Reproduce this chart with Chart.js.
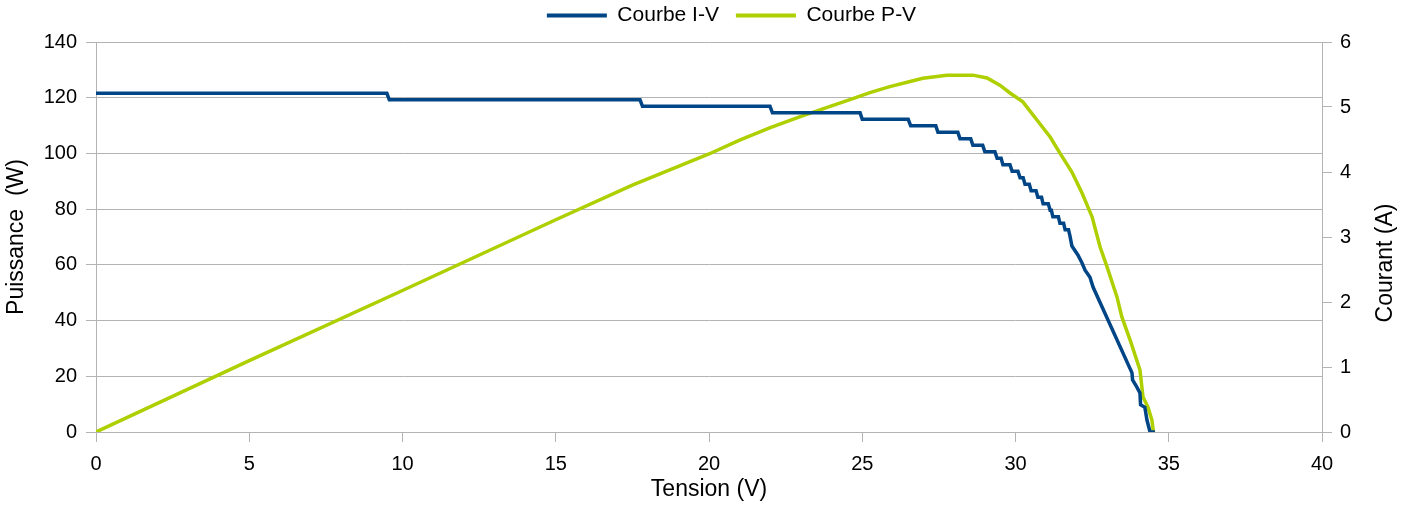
<!DOCTYPE html>
<html lang="fr">
<head>
<meta charset="utf-8">
<title>Courbes I-V et P-V</title>
<script src="https://cdn.jsdelivr.net/npm/chart.js@4.4.0/dist/chart.umd.min.js"></script>
<style>
  html, body { margin: 0; padding: 0; background: #fff; }
  #cadre { width: 1411px; height: 506px; }
</style>
</head>
<body>
<div id="cadre"><canvas id="courbes" width="1411" height="506"></canvas></div>
<script>
// Points : [tension (V), courant (A)]
const courbeIV = [
  [0, 5.21], [9.49, 5.21], [9.57, 5.11], [17.75, 5.11], [17.83, 5.01], [21.99, 5.01],
  [22.07, 4.91], [24.93, 4.91], [25.0, 4.81], [26.5, 4.81], [26.58, 4.71], [27.4, 4.71],
  [27.47, 4.61], [28.12, 4.61], [28.19, 4.51], [28.54, 4.51], [28.61, 4.41], [28.93, 4.41],
  [29.0, 4.31], [29.33, 4.31], [29.4, 4.21], [29.53, 4.21], [29.59, 4.11], [29.82, 4.11],
  [29.89, 4.01], [30.08, 4.01], [30.15, 3.91], [30.25, 3.91], [30.31, 3.81], [30.45, 3.81],
  [30.51, 3.71], [30.67, 3.71], [30.73, 3.61], [30.85, 3.61], [30.9, 3.51], [31.07, 3.51],
  [31.13, 3.41], [31.17, 3.41], [31.22, 3.31], [31.4, 3.31], [31.45, 3.21], [31.57, 3.21],
  [31.62, 3.11], [31.73, 3.11], [31.78, 3.01], [31.84, 2.86], [32.04, 2.72], [32.17, 2.6],
  [32.27, 2.49], [32.43, 2.38], [32.53, 2.23], [33.8, 0.91], [33.82, 0.8], [33.96, 0.69],
  [34.06, 0.6], [34.08, 0.42], [34.22, 0.38], [34.29, 0.18], [34.39, 0], [34.55, 0]
];

// Points relevés : [tension (V), puissance (W)]
const courbePV = [
  [0, 0], [5, 25.6], [10, 50.8], [15, 76.2], [17.5, 88.6], [20, 99.8], [21, 104.8],
  [22, 109.3], [23, 113.3], [24, 117.1], [24.6, 119.3], [25.25, 121.8], [25.9, 124.0],
  [26.56, 125.8], [26.98, 127.0], [27.76, 128.1], [28.61, 128.1], [29.07, 127.1], [29.49, 124.5],
  [29.82, 121.7], [30.24, 118.5], [30.7, 112.0], [31.13, 105.9], [31.45, 100.1], [31.84, 93.3],
  [32.17, 85.8], [32.5, 77.2], [32.76, 66.4], [32.99, 59.2], [33.31, 48.5], [33.47, 41.3],
  [33.74, 33.0], [34.06, 22.3], [34.16, 12.6], [34.32, 9.0], [34.45, 4.3], [34.5, 0]
];

const libelles = ['Courbe I-V', 'Courbe P-V'];
const titreX = 'Tension (V)';
const titreGauche = 'Puissance  (W)';
const titreDroite = 'Courant (A)';

const police = '"Liberation Sans", Arial, sans-serif';
const gris = '#b3b3b3';

// Petits ajustements de mise en page + titre de l'axe droit écrit de bas en haut
const miseEnPage = {
  id: 'miseEnPage',
  beforeLayout(chart) {
    // un peu plus d'espace sous la légende
    const leg = chart.legend;
    if (leg && !leg._fitAjuste) {
      const fit = leg.fit;
      leg.fit = function () { fit.call(this); this.height += 6; };
      leg._fitAjuste = true;
    }
  },
  afterLayout(chart) {
    // décale la légende vers la droite comme dans la référence
    chart.legend.left += 26;
    chart.legend.right += 26;
  },
  afterDraw(chart) {
    const ctx = chart.ctx;
    const axe = chart.scales.y1;
    const area = chart.chartArea;
    ctx.save();
    ctx.translate(axe.right - 25, (area.top + area.bottom) / 2 + 26);
    ctx.rotate(-Math.PI / 2);
    ctx.font = '23px ' + police;
    ctx.fillStyle = '#000';
    ctx.textAlign = 'center';
    ctx.textBaseline = 'middle';
    ctx.fillText(titreDroite, 0, 0);
    ctx.restore();
  }
};

const toXY = arr => arr.map(p => ({ x: p[0], y: p[1] }));

new Chart(document.getElementById('courbes'), {
  type: 'line',
  data: {
    datasets: [
      {
        label: libelles[0],
        data: toXY(courbeIV),
        yAxisID: 'y1',
        borderColor: '#004586',
        backgroundColor: '#004586',
        borderWidth: 3.5,
        pointRadius: 0,
        tension: 0
      },
      {
        label: libelles[1],
        data: toXY(courbePV),
        yAxisID: 'y',
        borderColor: '#aecf00',
        backgroundColor: '#aecf00',
        borderWidth: 3.5,
        pointRadius: 0,
        tension: 0
      }
    ]
  },
  options: {
    responsive: false,
    animation: false,
    layout: { padding: { top: -12, left: 0, right: 0, bottom: 0 } },
    plugins: {
      tooltip: { enabled: false },
      legend: {
        position: 'top',
        labels: {
          boxWidth: 60,
          boxHeight: 4,
          padding: 17,
          color: '#000',
          font: { family: police, size: 21 },
          generateLabels(chart) {
            return Chart.defaults.plugins.legend.labels.generateLabels(chart)
              .map(l => Object.assign(l, { lineWidth: 0 }));
          }
        }
      }
    },
    scales: {
      x: {
        type: 'linear',
        min: 0, max: 40,
        afterFit(s) { s.height = 74; },
        ticks: { stepSize: 5, autoSkip: false, maxRotation: 0, padding: 10, color: '#000', font: { family: police, size: 20 } },
        grid: { drawOnChartArea: false, drawTicks: true, tickLength: 10, color: gris },
        border: { color: gris },
        title: { display: true, text: titreX, color: '#000', font: { family: police, size: 23 }, padding: { top: 0, bottom: 3 } }
      },
      y: {
        position: 'left',
        min: 0, max: 140,
        afterFit(s) { s.width = 96; },
        ticks: { stepSize: 20, padding: 9, color: '#000', font: { family: police, size: 20 } },
        grid: { color: gris, tickLength: 10 },
        border: { color: gris },
        title: { display: true, text: titreGauche, color: '#000', font: { family: police, size: 23 }, padding: { top: 3, bottom: 0 } }
      },
      y1: {
        position: 'right',
        min: 0, max: 6,
        afterFit(s) { s.width = 89; },
        ticks: { stepSize: 1, padding: 8, color: '#000', font: { family: police, size: 20 } },
        grid: { drawOnChartArea: false, color: gris, tickLength: 10 },
        border: { color: gris }
      }
    }
  },
  plugins: [miseEnPage]
});
</script>
</body>
</html>
